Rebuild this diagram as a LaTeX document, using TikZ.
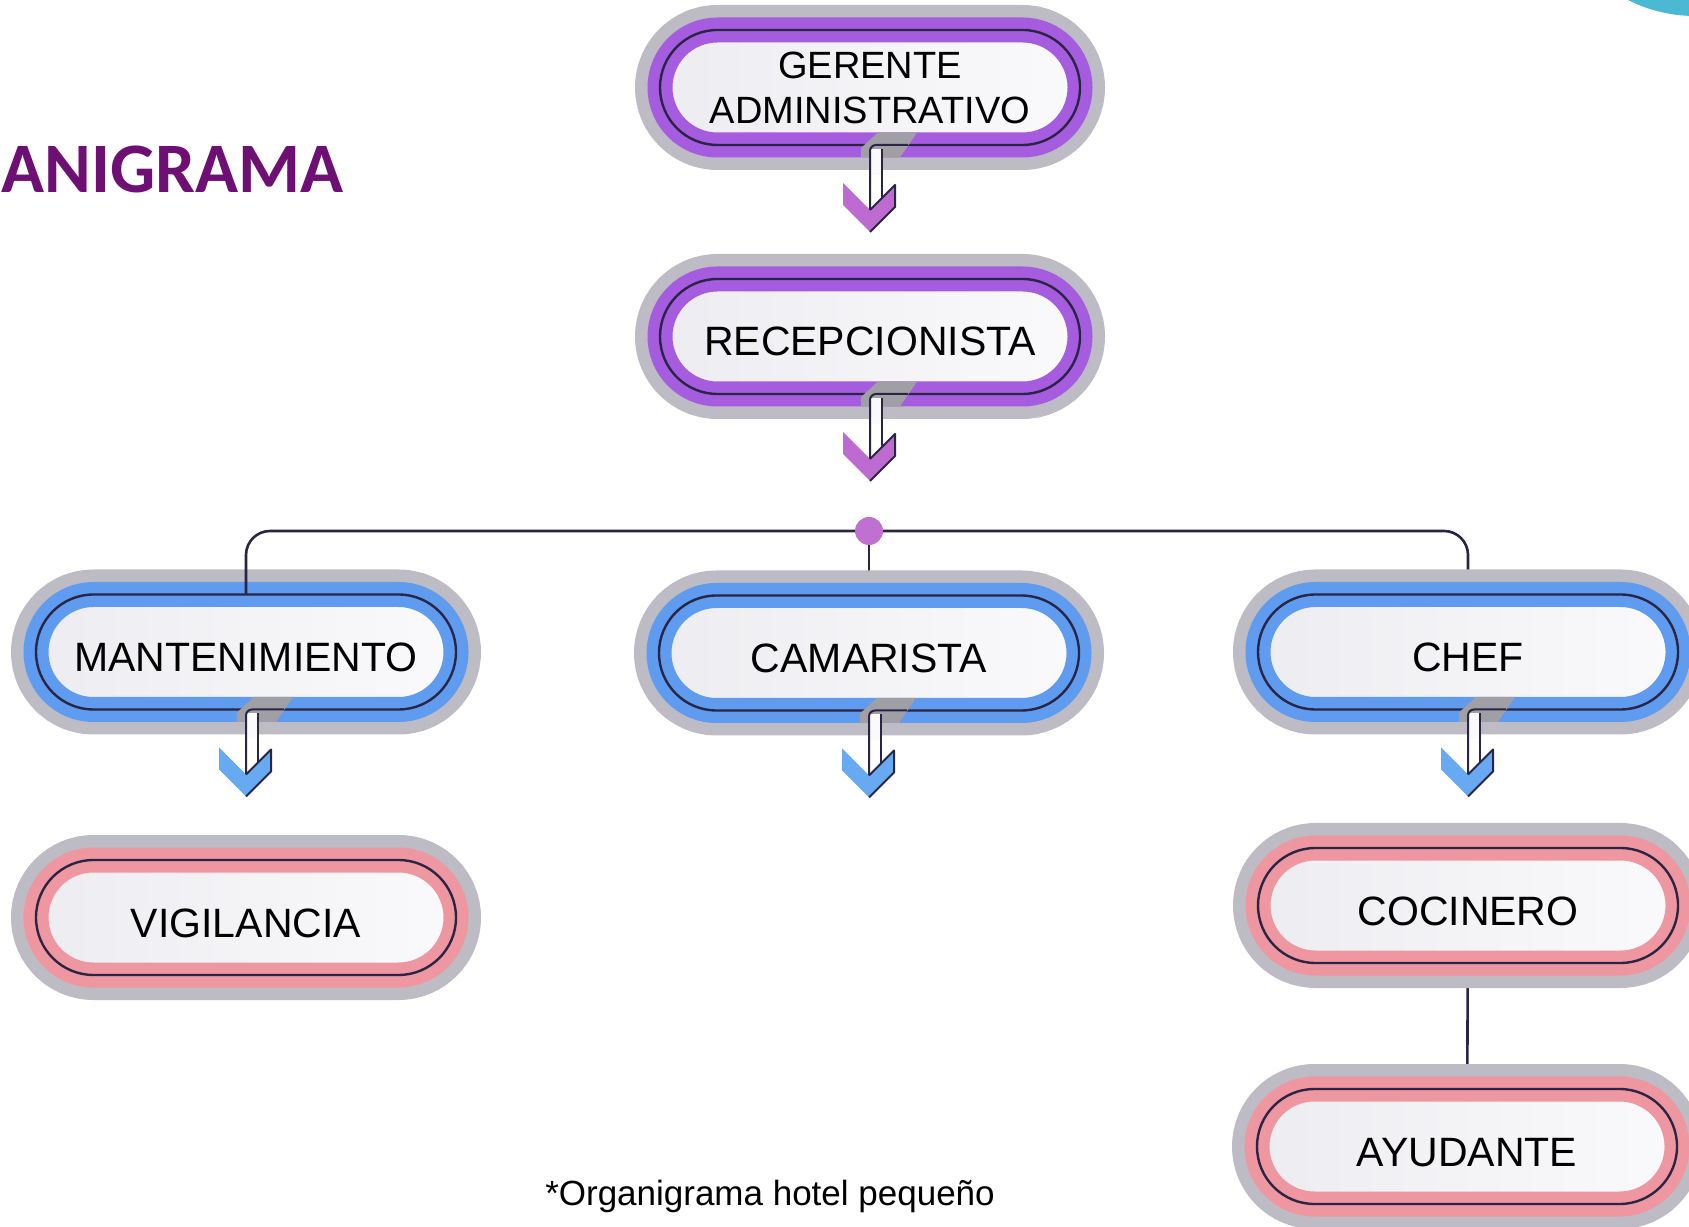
\documentclass[tikz,border=0pt]{standalone}
\usepackage{fontspec}
\setmainfont{Liberation Sans}
\newfontfamily\titlefont{Carlito}
\usetikzlibrary{calc,backgrounds}

\definecolor{halo}{HTML}{BDBBC3}
\definecolor{ringline}{HTML}{2A2545}
\definecolor{paneL}{HTML}{EDEDF1}
\definecolor{paneR}{HTML}{FAFAFC}
\definecolor{bandvio}{HTML}{A55CDF}
\definecolor{bandblue}{HTML}{5F9BEF}
\definecolor{bandpink}{HTML}{EE97A0}
\definecolor{chevvio}{HTML}{BD6BD0}
\definecolor{chevblue}{HTML}{67AAF2}
\definecolor{titlevio}{HTML}{6E0F73}
\definecolor{hubfill}{HTML}{C070D0}
\definecolor{cornerteal}{HTML}{4BB8D4}

\tikzset{
  pill/.style={rectangle, rounded corners=28.75pt, minimum width=210pt, minimum height=57.5pt,
    inner sep=0pt, outer sep=0pt, align=center, font=\fontsize{20.5}{24}\selectfont,
    preaction={draw=halo, line width=25pt},
    left color=paneL, right color=paneR, draw=#1, line width=12.5pt,
    postaction={draw=ringline, line width=1.2pt}},
  oneline/.style={text height=19.5pt, text depth=0pt},
  link/.style={draw=ringline, line width=1.3pt},
}

\begin{document}
\begin{tikzpicture}[x=0.5pt,y=0.5pt]
\useasboundingbox (0,0) rectangle (1689,1226);
\clip (0,0) rectangle (1689,1226);

\fill[cornerteal] (1695,1358) circle (148);

\node[anchor=base west, inner sep=0pt, text=titlevio,
  font=\titlefont\bfseries\fontsize{35.5}{42}\selectfont] (title) at (1,1033) {ANIGRAMA};

% boxes
\node[pill=bandvio, font=\fontsize{19}{22.5}\selectfont] (ger) at (870,1138.5) {GERENTE\\ADMINISTRATIVO};
\node[pill=bandvio, oneline] (rec) at (870,889.5) {RECEPCIONISTA};
\node[pill=bandblue, oneline] (man) at (246,574) {MANTENIMIENTO};
\node[pill=bandblue, oneline] (cam) at (869,573) {CAMARISTA};
\node[pill=bandblue, oneline] (chf) at (1468,574) {CHEF};
\node[pill=bandpink, oneline] (vig) at (246,308.5) {VIGILANCIA};
\node[pill=bandpink, oneline] (coc) at (1468,320.5) {COCINERO};
\node[pill=bandpink, oneline] (ayu) at (1467,79.5) {AYUDANTE};

% connectors
\coordinate (hub) at (869,695);
\begin{scope}[on background layer]
\draw[link, rounded corners=12pt] (hub) -| (chf.north);
\draw[link] (hub) -- (cam.north);
\draw[link] (coc) -- (ayu);
\end{scope}
\draw[link, rounded corners=12pt] (man.north) |- (hub);
\node[circle, fill=hubfill, minimum size=14pt, inner sep=0pt] (dot) at (hub) {};

% down arrows under the boxes
\foreach \n/\c in {ger/chevvio, rec/chevvio, man/chevblue, cam/chevblue, chf/chevblue}{
  \begin{scope}[shift={(\n.south)}]
    \fill[halo!85!black] (-9,-12.5) -- (-9,-3) -- (8,12.5) -- (47,12.5) -- (30,-12.5) -- cycle;
    \fill[\c] (-27,-38) -- (0,-65) -- (25,-40) -- (25,-62) -- (0,-87) -- (-27,-60) -- cycle;
    \fill[paneR] (0,-4) rectangle (12,-30);
    \draw[ringline, line width=1pt, line join=round] (0,-65) -- (25,-40) -- (25,-62) -- (0,-87);
    \draw[ringline, line width=1pt] (38,0) -- (6,0) arc (90:180:6) -- (0,-65);
    \draw[ringline, line width=1pt] (12,-4) -- (12,-53);
  \end{scope}
}

\node[anchor=base, inner sep=0pt, font=\fontsize{17.5}{21}\selectfont] (note) at (770,21) {*Organigrama hotel pequeño};
\end{tikzpicture}
\end{document}
